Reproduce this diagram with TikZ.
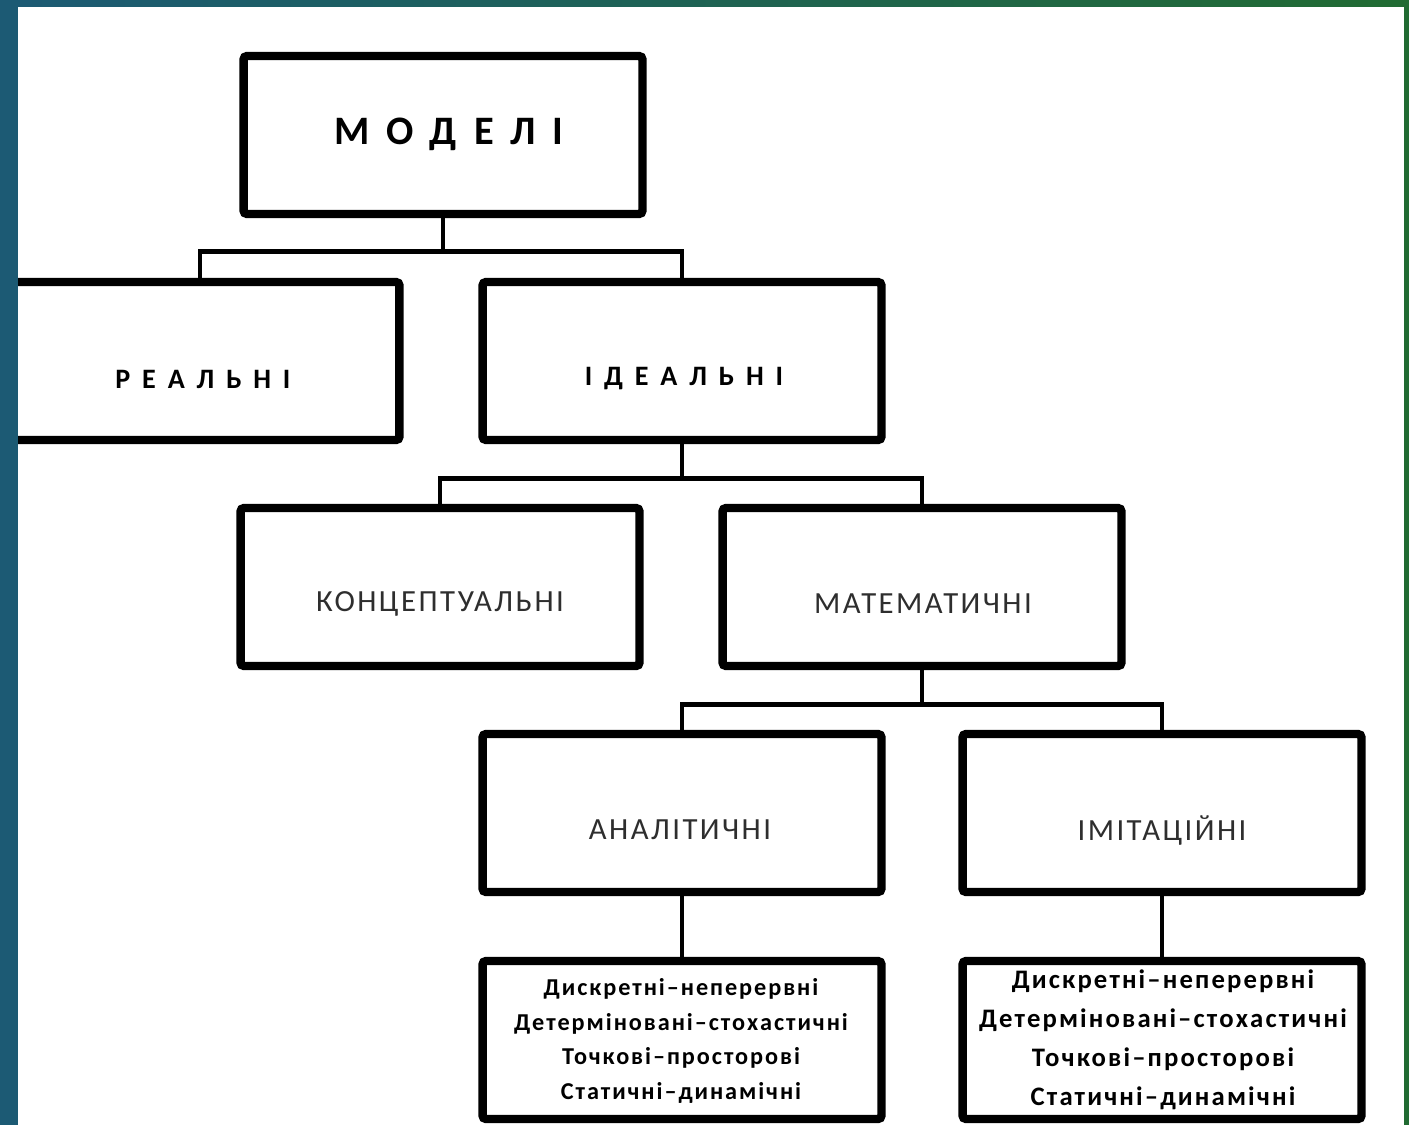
\documentclass[tikz,border=0pt]{standalone}
\usepackage{fontspec}
\setmainfont{Carlito}
\newfontfamily\widefont[LetterSpace=42]{Carlito}
\newfontfamily\listfont[LetterSpace=8]{Carlito}
\usetikzlibrary{shadows}

\definecolor{bgteal}{HTML}{1C5A74}
\definecolor{bggreen}{HTML}{216B32}
\definecolor{labelgray}{HTML}{2E2E2E}

\tikzset{
  box/.style={draw=black, line width=4.8pt, rounded corners=2pt, fill=white,
    minimum width=7.98cm, minimum height=3.16cm, inner sep=0pt,
    drop shadow={shadow xshift=1.5pt, shadow yshift=-2pt, opacity=0.25}},
  link/.style={line width=2.8pt, line cap=rect},
  toptxt/.style={font=\widefont\bfseries\fontsize{23}{26}\selectfont},
  captxt/.style={font=\widefont\bfseries\fontsize{16}{19}\selectfont},
  midtxt/.style={font=\fontsize{17.5}{20}\selectfont\addfontfeature{LetterSpace=8}, text=labelgray},
  listtxt/.style={font=\listfont\bfseries\fontsize{13.8}{19.7}\selectfont, align=center}
}

\begin{document}
\begin{tikzpicture}[x=0.02cm, y=-0.02cm]
        \useasboundingbox (0,0) rectangle (1409,1125);
        % frame of the slide
        \shade[left color=bgteal, right color=bggreen] (0,0) rectangle (1409,1125);
        \fill[white] (18,7) rectangle (1404,1125);
        \begin{scope}
        \clip (18,7) rectangle (1404,1125);
        % boxes
        \node[box] (models) at (443,135) {};
        \node[box] (real) at (200,361) {};
        \node[box] (ideal) at (682,361) {};
        \node[box] (concept) at (440,587) {};
        \node[box] (math) at (922,587) {};
        \node[box] (anal) at (682,813) {};
        \node[box] (imit) at (1162,813) {};
        \node[box] (anallist) at (682,1040) {};
        \node[box] (imitlist) at (1162,1040) {};
        % connectors
        \draw[link] (models.south) -- ++(0,33) -| (real.north);
        \draw[link] (models.south) -- ++(0,33) -| (ideal.north);
        \draw[link] (ideal.south) -- ++(0,34) -| (concept.north);
        \draw[link] (ideal.south) -- ++(0,34) -| (math.north);
        \draw[link] (math.south) -- ++(0,34) -| (anal.north);
        \draw[link] (math.south) -- ++(0,34) -| (imit.north);
        \draw[link] (anal.south) -- (anallist.north);
        \draw[link] (imit.south) -- (imitlist.north);
        % texts
        \node[toptxt] (modelstxt) at (449,134) {МОДЕЛІ};
        \node[captxt] (realtxt) at (203,379) {РЕАЛЬНІ};
        \node[captxt] (idealtxt) at (684,379) {ІДЕАЛЬНІ};
        \node[midtxt] (concepttxt) at (440,604) {КОНЦЕПТУАЛЬНІ};
        \node[midtxt] (mathtxt) at (923,604) {МАТЕМАТИЧНІ};
        \node[midtxt] (analtxt) at (680,830) {АНАЛІТИЧНІ};
        \node[midtxt] (imittxt) at (1162,830) {ІМІТАЦІЙНІ};
        \node[listtxt] (anallisttxt) at (681,1041) {Дискретні–неперервні\\Детерміновані–стохастичні\\Точкові–просторові\\Статичні–динамічні};
        \node[listtxt, font=\listfont\bfseries\fontsize{15.2}{22.1}\selectfont] (imitlisttxt) at (1163,1040) {Дискретні–неперервні\\Детерміновані–стохастичні\\Точкові–просторові\\Статичні–динамічні};
        \end{scope}
    \end{tikzpicture}
\end{document}
